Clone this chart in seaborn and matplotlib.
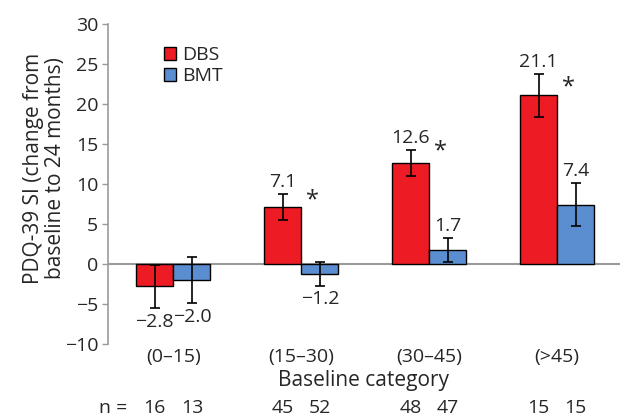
import pandas as pd
import matplotlib.pyplot as plt
import matplotlib.transforms as mtransforms
from matplotlib.patches import Patch
import seaborn as sns

categories = ['(0–15)', '(15–30)', '(30–45)', '(>45)']
groups = ['DBS', 'BMT']
dbs_values = [-2.8, 7.1, 12.6, 21.1]
bmt_values = [-2.0, -1.2, 1.7, 7.4]
dbs_err = [2.7, 1.6, 1.6, 2.7]
bmt_err = [2.9, 1.5, 1.5, 2.7]
dbs_n = [16, 45, 48, 15]
bmt_n = [13, 52, 47, 15]
# height of the significance star per category (None = not significant)
star_height = [None, 8.0, 14.1, 22.1]

df = pd.DataFrame({
    'category': categories * 2,
    'group': ['DBS'] * 4 + ['BMT'] * 4,
    'value': dbs_values + bmt_values,
    'err': dbs_err + bmt_err,
    'n': dbs_n + bmt_n,
})

sns.set_style('white')
plt.rcParams['font.family'] = ['Open Sans', 'DejaVu Sans']

fig = plt.figure(figsize=(6.21, 4.16), dpi=100)
ax = fig.add_axes([0.174, 0.173, 0.824, 0.769])

palette = {'DBS': '#ED1C24', 'BMT': '#5B8ED0'}
sns.barplot(data=df, x='category', y='value', hue='group', order=categories,
            hue_order=groups, palette=palette, width=0.58, saturation=1,
            edgecolor='black', linewidth=1, errorbar=None, legend=False, ax=ax)

# error bars, value labels and n counts, matched to seaborn's bars
grey = '#9a9a9a'
fs = 14
n_trans = mtransforms.blended_transform_factory(ax.transData, fig.transFigure)
for grp, patches in zip(groups, [ax.patches[:4], ax.patches[4:8]]):
    sub = df[df.group == grp].reset_index(drop=True)
    for p, (_, row) in zip(patches, sub.iterrows()):
        xc = p.get_x() + p.get_width() / 2
        ax.errorbar(xc, row.value, yerr=row.err, fmt='none', ecolor='black',
                    elinewidth=1.2, capsize=3.5, capthick=1.2)
        if row.value >= 0:
            ax.text(xc, row.value + row.err + 0.4, f'{row.value:.1f}',
                    ha='center', va='bottom', fontsize=fs)
        else:
            ax.text(xc, row.value - row.err - 0.6, f'{row.value:.1f}'.replace('-', '−'),
                    ha='center', va='top', fontsize=fs)
        ax.text(xc, 0.02, str(row.n), transform=n_trans,
                ha='center', va='center', fontsize=fs)

for i, h in enumerate(star_height):
    if h is not None:
        ax.text(i + 0.09, h, '*', ha='center', va='center', fontsize=17)

fig.text(0.182, 0.02, 'n =', ha='center', va='center', fontsize=fs)

ax.axhline(0, color=grey, lw=1.5, zorder=0.5)
ax.set_xlim(-0.51, 3.49)
ax.set_ylim(-10, 30)
ax.set_yticks(range(-10, 31, 5))
ax.set_yticklabels([str(t).replace('-', '−') for t in range(-10, 31, 5)])
for s in ['top', 'right', 'bottom']:
    ax.spines[s].set_visible(False)
ax.spines['left'].set_color(grey)
ax.spines['left'].set_linewidth(1.2)
ax.tick_params(axis='y', length=4, color=grey, width=1, labelsize=fs, pad=3, left=True)
ax.tick_params(axis='x', length=0, labelsize=fs, pad=3)

ax.set_xlabel('Baseline category', fontsize=15, labelpad=3)
ax.set_ylabel('PDQ-39 SI (change from\nbaseline to 24 months)', fontsize=15,
              linespacing=1.05)
ax.yaxis.set_label_coords(-0.083, 0.55)

handles = [Patch(facecolor=palette[g], edgecolor='black', linewidth=1) for g in groups]
ax.legend(handles, groups, loc='upper left', bbox_to_anchor=(0.095, 0.955),
          frameon=False, fontsize=fs, handlelength=0.6, handleheight=0.6,
          handletextpad=0.3, labelspacing=0.15, borderaxespad=0)

fig.savefig('out.png', dpi=100)
